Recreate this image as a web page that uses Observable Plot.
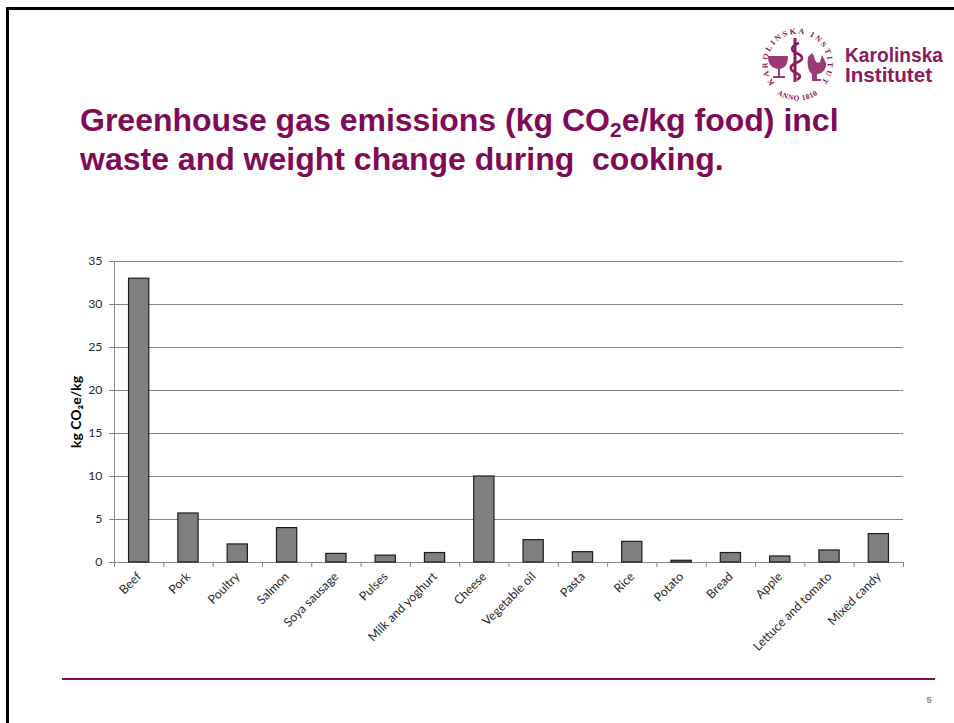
<!DOCTYPE html>
<html>
<head>
<meta charset="utf-8">
<script src="https://cdn.jsdelivr.net/npm/d3@7"></script>
<script src="https://cdn.jsdelivr.net/npm/@observablehq/plot@0.6"></script>
<style>
  html, body { margin: 0; padding: 0; background: #fff; }
  #slide { position: relative; width: 954px; height: 723px; overflow: hidden; background: #fff; }
  #slide > svg.frame { position: absolute; left: 0; top: 0; }
  #chart { position: absolute; left: 0; top: 0; }
  h1 {
    position: absolute; left: 80px; top: 101px; margin: 0; width: 820px;
    font: 700 32px/39px "Liberation Sans", Arial, sans-serif; color: #800a56;
  }
  h1 sub { font-size: 21px; line-height: 0; vertical-align: -6px; }
  #rule { position: absolute; left: 62px; top: 678px; width: 873px; height: 2px; background: #800a56; }
  #page { position: absolute; left: 926.5px; top: 694px; font: 700 9.5px "Liberation Sans", Arial, sans-serif; color: #8c8c8c; }
</style>
</head>
<body>
<div id="slide">
  <svg class="frame" width="954" height="723">
    <!-- slide edge, open at the right and bottom -->
    <path d="M7.5 723V8.5H954" fill="none" stroke="#000" stroke-width="3"/>
    <!-- institute seal and wordmark -->
    <g fill="#8b1a5e" stroke="none" font-family="'Liberation Serif', serif" font-weight="700">
      <defs>
        <path id="sealTop" d="M774.5 83A30 30 0 1 1 820.5 83"/>
        <path id="sealBottom" d="M772.5 90.8A37 37 0 0 0 822.5 90.8"/>
      </defs>
      <text font-size="8" letter-spacing="1"><textPath href="#sealTop" textLength="150">KAROLINSKA INSTITUTET</textPath></text>
      <text font-size="7.5" letter-spacing="0.5"><textPath href="#sealBottom" startOffset="50%" text-anchor="middle">ANNO 1810</textPath></text>
      <!-- staff with serpent -->
      <path d="M793.5 38h3v44h-3z"/>
      <path d="M799 43c-8 3-9 7-3 10 8 3 8 7 0 10-7 3-7 7 0 10 5 2 5 4 1 7" fill="none" stroke="#8b1a5e" stroke-width="2.6"/>
      <!-- cup -->
      <path d="M768 56h20c0 9-3 12-8 13v7h5v2h-12v-2h5v-7c-6-1-10-4-10-13z" fill="#9c3a78"/>
      <!-- rooster -->
      <path d="M808 57l4-4 2 3c1 6 3 8 6 6l2-7 4 8c1 6-4 11-9 11v5h4v2h-9v-7c-4-3-5-10-4-17z" fill="#9c3a78"/>
    </g>
    <text fill="#8b1a5e" font-family="'Liberation Sans Narrow','Liberation Sans',sans-serif" font-weight="700" font-size="21">
      <tspan x="845" y="62" textLength="98" lengthAdjust="spacingAndGlyphs">Karolinska</tspan>
      <tspan x="845" y="82" textLength="87" lengthAdjust="spacingAndGlyphs">Institutet</tspan>
    </text>
  </svg>
  <div id="chart"></div>
  <h1>Greenhouse gas emissions (kg CO<sub>2</sub>e/kg food) incl<br>waste and weight change during&nbsp; cooking.</h1>
  <div id="rule"></div>
  <div id="page">5</div>
</div>
<script>
// Emissions per food group, kg CO2e per kg of food
const foods = ["Beef", "Pork", "Poultry", "Salmon", "Soya sausage", "Pulses", "Milk and yoghurt", "Cheese",
  "Vegetable oil", "Pasta", "Rice", "Potato", "Bread", "Apple", "Lettuce and tomato", "Mixed candy"];
const emissions = [33, 5.7, 2.1, 4, 1, 0.8, 1.1, 10, 2.6, 1.2, 2.4, 0.2, 1.1, 0.7, 1.4, 3.3];
const yTicks = [0, 5, 10, 15, 20, 25, 30, 35];

const rows = foods.map((food, i) => ({food, i, value: emissions[i]}));
const axisColor = "#868686";

const chart = Plot.plot({
  width: 954,
  height: 723,
  marginLeft: 114,
  marginRight: 51,
  marginTop: 261,
  marginBottom: 161,
  style: {fontFamily: "Lato, sans-serif", fontSize: "12.3px", color: "#2a2a2a", background: "transparent"},
  x: {type: "linear", domain: [0, foods.length]},
  y: {domain: [0, 35]},
  marks: [
    Plot.ruleY(yTicks, {stroke: axisColor, strokeOpacity: 1}),
    Plot.ruleX([0], {stroke: axisColor}),
    Plot.rectY(rows, {
      x1: d => d.i + 0.295,
      x2: d => d.i + 0.705,
      y: "value",
      fill: "#7f7f7f",
      stroke: "#1c1c1c",
      strokeWidth: 1.2
    }),
    // y axis: short ticks to the left of the value axis
    Plot.axisY({ticks: yTicks, tickSize: 5, tickPadding: 7, stroke: axisColor, label: null}),
    // x axis: ticks on the band edges, rotated names on the band centres
    Plot.axisX({
      ticks: d3.range(foods.length + 1), tickSize: 5, stroke: axisColor,
      tickFormat: () => "", label: null
    }),
    Plot.axisX({
      ticks: foods.map((_, i) => i + 0.5), tickSize: 0, tickRotate: -45, tickPadding: 8, dy: 4,
      tickFormat: d => foods[Math.floor(d)], label: null, lineWidth: 30
    }),
    Plot.text(["kg CO₂e/kg"], {
      frameAnchor: "left", textAnchor: "middle", rotate: -90, dx: -38, fontWeight: 700, fontSize: 14, fill: "#000"
    })
  ]
});
document.getElementById("chart").append(chart);
</script>
</body>
</html>
